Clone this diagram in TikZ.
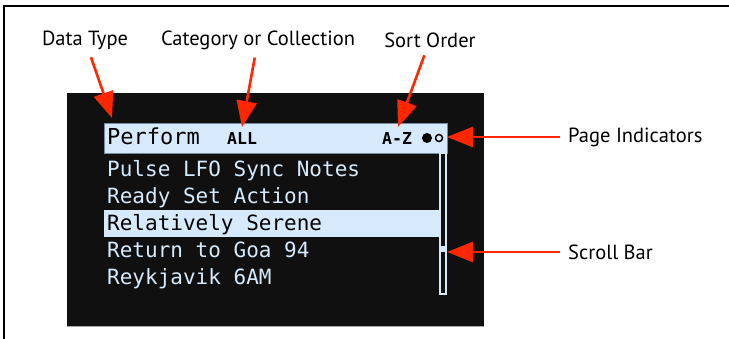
\documentclass[tikz,border=0pt]{standalone}
\usepackage{fontspec}
\setmainfont{PT Sans}
\newfontfamily\lcdfont{DejaVu Sans Mono}
\usetikzlibrary{arrows.meta}
\definecolor{callred}{RGB}{255,38,0}
\definecolor{lcdblue}{RGB}{214,234,251}
\definecolor{lcdblack}{RGB}{16,16,16}
\definecolor{barline}{RGB}{120,140,160}
\begin{document}
\begin{tikzpicture}[x=1pt,y=-1pt,
    lbl/.style={font=\fontsize{20.5}{24}\selectfont, inner sep=2pt},
    row/.style={font=\lcdfont\fontsize{21}{24}\selectfont, anchor=base west, inner sep=0pt},
    call/.style={draw=callred, line width=2.6pt, -{Triangle[length=26pt,width=20pt]}, shorten <=6pt}]
  \useasboundingbox (0,0) rectangle (729,339);
  \draw[line width=1.8pt] (4,339) -- (4,6) -- (729,6);
  % screen
  \fill[lcdblack] (67,93) rectangle (484,327);
  \draw[black!35, line width=1pt] (67,327) -- (484,327);
  \draw[barline, fill=lcdblue] (104,123) rectangle (447,153);
  \fill[lcdblue] (104,210) rectangle (439,237);
  \draw[lcdblue, line width=2pt, fill=lcdblack] (440,153) rectangle (445.5,294);
  \fill[lcdblue] (440,246) rectangle (445.5,252);
  \node[row, font=\lcdfont\fontsize{22}{24}\selectfont] (perform) at (107,145) {Perform};
  \node[row, font=\lcdfont\bfseries\fontsize{16.5}{20}\selectfont] (coll) at (227,145) {ALL};
  \node[row, font=\lcdfont\bfseries\fontsize{16.5}{20}\selectfont] (order) at (382,145) {A-Z};
  \fill (427,138) circle (5pt);
  \draw[line width=1.5pt] (439,138) circle (3.5pt);
  \foreach \entry/\tone [count=\i] in {Pulse LFO Sync Notes/lcdblue, Ready Set Action/lcdblue,
      Relatively Serene/black, Return to Goa 94/lcdblue, Reykjavik 6AM/lcdblue}
    \node[row, text=\tone] (entry\i) at (107,150+27*\i) {\entry};
  % callouts
  \node[lbl] (datatype) at (85,40) {Data Type};
  \node[lbl] (category) at (258,40) {Category or Collection};
  \node[lbl] (sortorder) at (430,40) {Sort Order};
  \node[lbl, anchor=west] (pageind) at (566,137) {Page Indicators};
  \node[lbl, anchor=west] (scrolllbl) at (566,252) {Scroll Bar};
  \coordinate (typetip) at (112,118);
  \coordinate (cattip) at (242,127);
  \coordinate (sorttip) at (398,127);
  \coordinate (pagetip) at (447,137);
  \coordinate (scrolltip) at (447,252);
  \draw[call] (datatype) -- (typetip);
  \draw[call] (category) -- (cattip);
  \draw[call] (sortorder) -- (sorttip);
  \draw[call] (pageind) -- (pagetip);
  \draw[call] (scrolllbl) -- (scrolltip);
\end{tikzpicture}
\end{document}
